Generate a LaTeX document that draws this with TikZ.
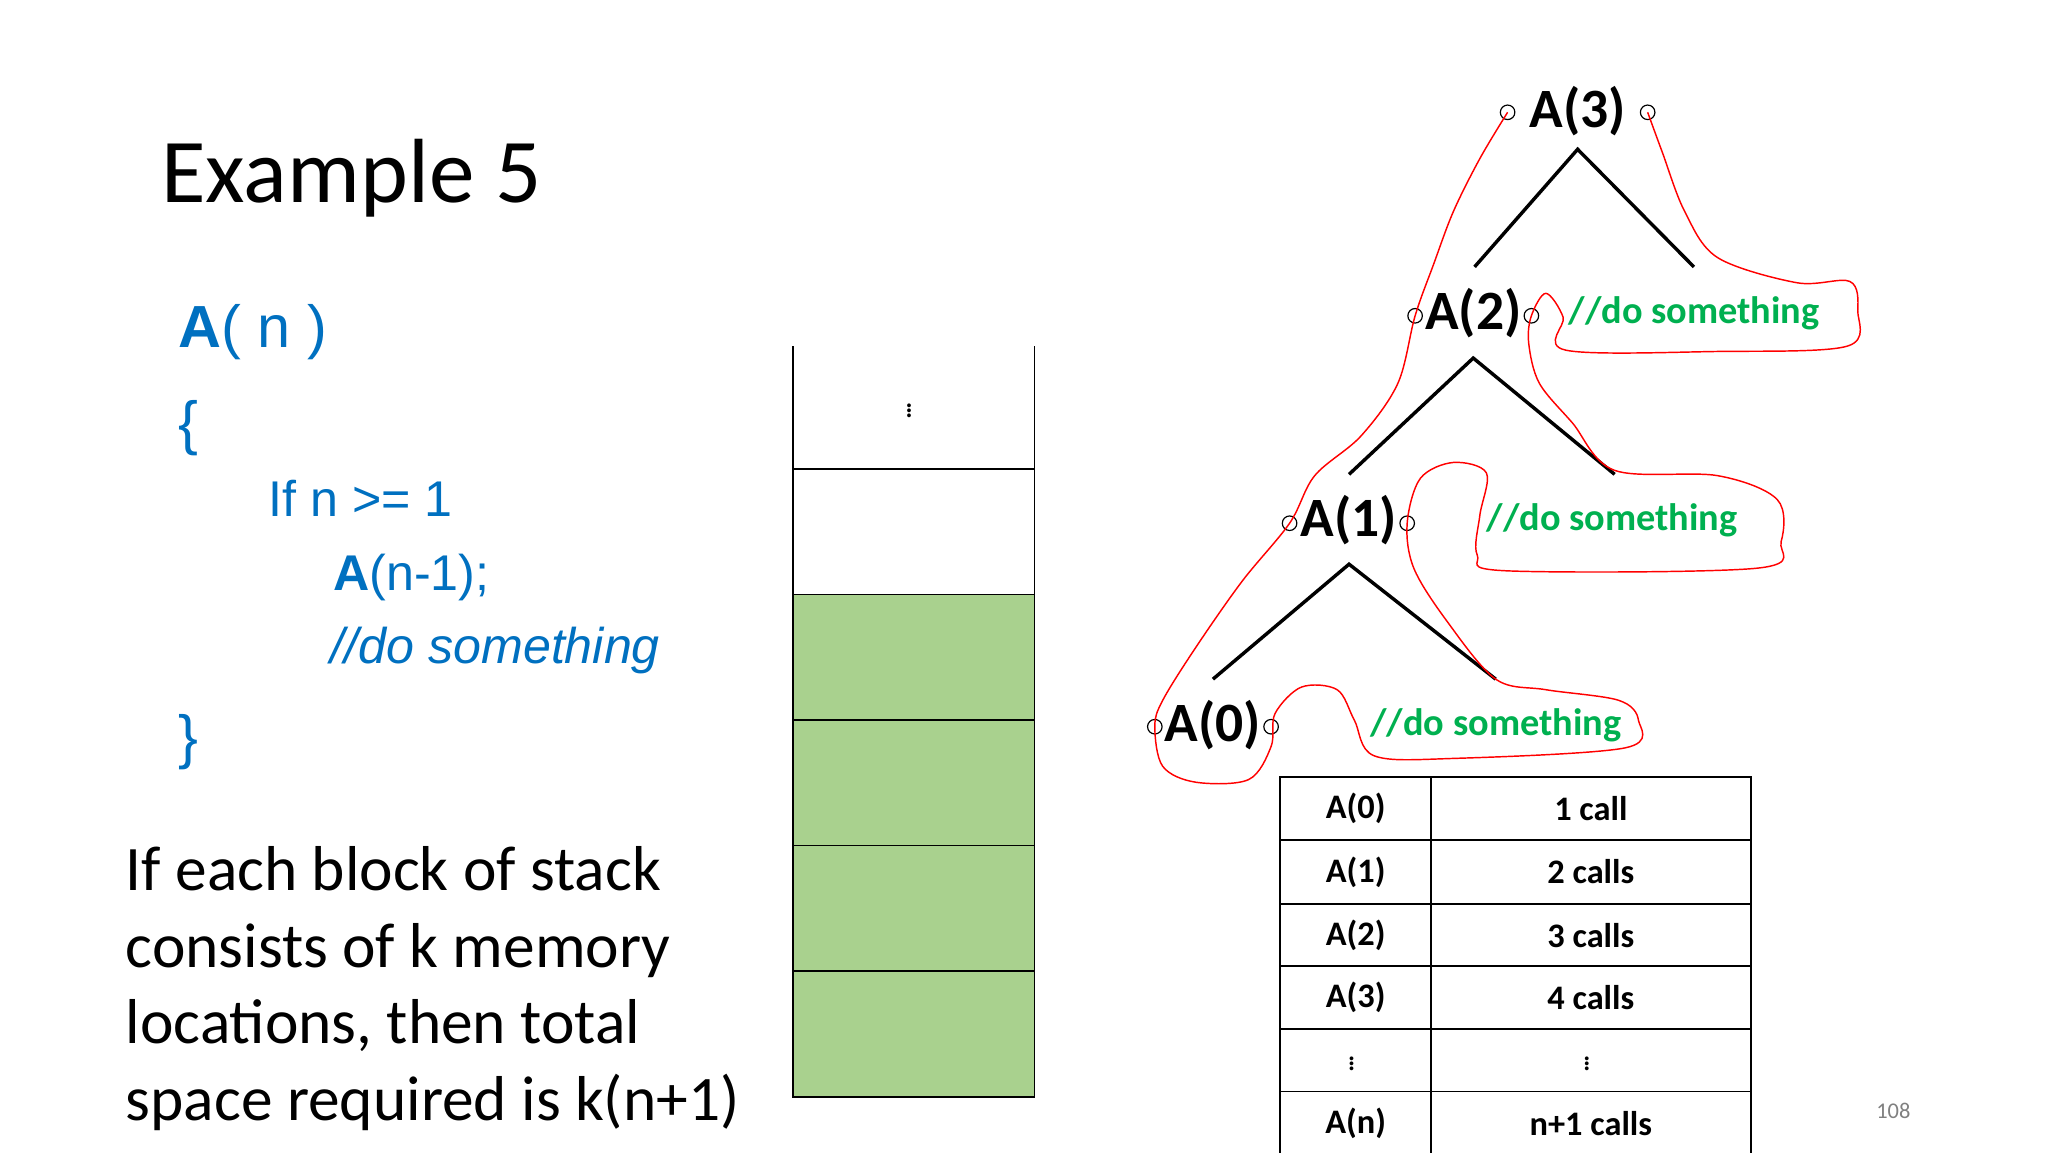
\documentclass[tikz,border=0pt]{standalone}
\usepackage{fontspec}
\setmainfont{Carlito}
\newfontfamily\codefont{Liberation Sans}
\definecolor{codeblue}{RGB}{0,112,192}
\definecolor{dogreen}{RGB}{0,176,80}
\definecolor{stackgreen}{RGB}{169,209,142}
\newcommand{\fs}[1]{\fontsize{#1}{#1}\selectfont}
\begin{document}
\begin{tikzpicture}[x=1pt,y=-1pt,
  code/.style={anchor=base west,inner sep=0,text=codeblue,font=\codefont\fs{38}},
  body/.style={anchor=base west,inner sep=0,font=\fs{48}},
  call/.style={inner sep=0,font=\bfseries\fs{42}},
  dot/.style={circle,draw,inner sep=0,minimum size=11pt,line width=0.9pt},
  branch/.style={line width=2.6pt},
  dosome/.style={anchor=west,inner sep=0,text=dogreen,font=\bfseries\fs{29}},
  cell/.style={inner sep=0,font=\bfseries\fs{26}},
  vd/.style={inner sep=0,font=\fs{24}}]
\useasboundingbox[fill=white] (0,0) rectangle (1550,872);
% title
\node[anchor=base west,inner sep=0,font=\fs{69}] (title) at (122,153) {Example 5};
% code
\node[code,font=\codefont\fs{45}] (c1) at (135,263) {\textbf{A}( n )};
\node[code,font=\codefont\fs{45}] (c2) at (135,336) {\{};
\node[code] (c3) at (203,391) {If n >= 1};
\node[code] (c4) at (252,447) {\textbf{A}(n-1);};
\node[code] (c5) at (250,502) {\itshape //do something};
\node[code,font=\codefont\fs{45}] (c6) at (135,573) {\}};
% text
\node[body] (t1) at (95,674) {If each block of stack};
\node[body] (t2) at (95,732) {consists of k memory};
\node[body] (t3) at (95,790) {locations, then total};
\node[body] (t4) at (95,848) {space required is k(n+1)};
% stack
\fill[stackgreen] (600,450) rectangle (783,830);
\draw[line width=1.3pt] (600,262) -- (600,830) -- (783,830) -- (783,262);
\foreach \y in {355,450,545,640,735} \draw[line width=1.3pt] (600,\y) -- (783,\y);
\node[vd] (sd) at (688,308) {$\vdots$};
% tree
\node[call] (a3) at (1194,84) {A(3)};
\node[call] (a2) at (1115,237) {A(2)};
\node[call] (a1) at (1021,394) {A(1)};
\node[call] (a0) at (918,549) {A(0)};
\node[dot] (l3) at (1141,85) {}; \node[dot] (r3) at (1247,85) {};
\node[dot] (l2) at (1071,239) {}; \node[dot] (r2) at (1159,239) {};
\node[dot] (l1) at (976,396) {}; \node[dot] (r1) at (1065,396) {};
\node[dot] (l0) at (874,550) {}; \node[dot] (r0) at (962,550) {};
\coordinate (p3) at (1194,113); \coordinate (p2) at (1115,271); \coordinate (p1) at (1021,427);
\coordinate (q3) at (1282,202); \coordinate (q2) at (1222,359); \coordinate (q1) at (1132,514);
\coordinate (s3) at (1116,202); \coordinate (s2) at (1021,359); \coordinate (s1) at (918,514);
\draw[branch] (s3) -- (p3) -- (q3);
\draw[branch] (s2) -- (p2) -- (q2);
\draw[branch] (s1) -- (p1) -- (q1);
\node[dosome] (d2) at (1187,237) {//do something};
\node[dosome] (d1) at (1125,394) {//do something};
\node[dosome] (d0) at (1037,549) {//do something};
\draw[red,line width=1.1pt] plot[smooth,tension=0.55] coordinates {
(1141,85)(1120,120)(1100,160)(1085,200)(1071,239)(1058,290)(1030,330)(995,360)(976,396)(940,440)(905,490)(880,530)(874,550)(880,580)(905,592)(945,590)(962,565)(965,540)(985,520)(1012,522)(1025,545)(1040,572)(1100,574)(1230,566)(1240,545)(1225,530)(1170,522)(1132,514)(1095,470)(1070,430)(1065,396)(1075,362)(1100,350)(1125,358)(1120,390)(1118,420)(1140,432)(1330,430)(1348,410)(1345,378)(1300,360)(1222,356)(1190,320)(1165,290)(1157,260)(1159,239)(1170,222)(1183,240)(1185,265)(1300,266)(1398,262)(1406,235)(1400,213)(1360,214)(1300,195)(1275,160)(1258,115)(1247,85)};
% table
\draw[line width=1.3pt] (969,588) rectangle (1325,874);
\draw[line width=1.3pt] (1083,588) -- (1083,874);
\foreach \y in {636,684,731,779,826} \draw[line width=1.3pt] (969,\y) -- (1325,\y);
\node[cell] (k0) at (1026,612) {A(0)}; \node[cell] (v0) at (1204,612) {1 call};
\node[cell] (k1) at (1026,660) {A(1)}; \node[cell] (v1) at (1204,660) {2 calls};
\node[cell] (k2) at (1026,708) {A(2)}; \node[cell] (v2) at (1204,708) {3 calls};
\node[cell] (k3) at (1026,755) {A(3)}; \node[cell] (v3) at (1204,755) {4 calls};
\node[vd] (k4) at (1023,802) {$\vdots$}; \node[vd] (v4) at (1201,802) {$\vdots$};
\node[cell] (k5) at (1026,850) {A(n)}; \node[cell] (v5) at (1204,850) {n+1 calls};
\node[text=gray,font=\fs{17}] (pg) at (1433,841) {108};
\end{tikzpicture}
\end{document}
